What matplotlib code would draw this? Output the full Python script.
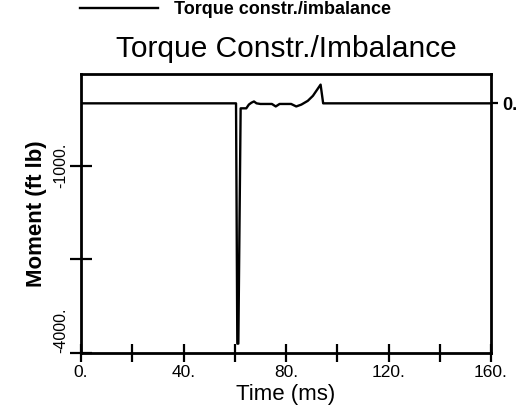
import matplotlib
matplotlib.use("Agg")
import matplotlib.pyplot as plt

plt.rcParams['font.family'] = ['Liberation Sans', 'DejaVu Sans']

# Data (time in ms, moment in ft lb)
time_ms = [0, 60.5, 61.0, 61.4, 62.3, 64.5, 65.5, 66.5, 67.5, 68.5, 70.0,
           74.5, 76.0, 77.5, 82.0, 84.0, 86.0, 88.5, 90.5, 93.5, 94.5, 160]
moment = [0, 0, -3850, -3850, -80, -80, -20, 10, 30, 0, -10,
          -10, -50, -10, -10, -50, -20, 40, 120, 300, 0, 0]

x_ticks = [0, 20, 40, 60, 80, 100, 120, 140, 160]
x_labels = ['0.', '', '40.', '', '80.', '', '120.', '', '160.']
y_ticks = [-4000, -2500, -1000]
y_labels = ['-4000.', '', '-1000.']
y_right_ticks = [0]
y_right_labels = ['0.']

series_name = 'Torque constr./imbalance'
title = 'Torque Constr./Imbalance'

fig = plt.figure(figsize=(5.29, 4.12), dpi=100)
ax = fig.add_axes([81/529, 1-353/412, 410/529, 279/412])

line, = ax.plot(time_ms, moment, color='black', lw=1.7, label=series_name)
ax.set_xlim(0, 160)
ax.set_ylim(-4000, 470)

for s in ax.spines.values():
    s.set_linewidth(2.0)

ax.set_xticks(x_ticks)
ax.set_xticklabels(x_labels, fontsize=12.5)
ax.set_yticks(y_ticks)
ax.set_yticklabels(y_labels, fontsize=11.5, rotation=90, va='center')
ax.get_yticklabels()[0].set_va('bottom')
ax.tick_params(axis='x', direction='inout', length=13, width=1.6, pad=2)
ax.tick_params(axis='y', direction='inout', length=16, width=1.6, pad=1)

ax2 = ax.twinx()
ax2.set_ylim(ax.get_ylim())
ax2.set_yticks(y_right_ticks)
ax2.set_yticklabels(y_right_labels, fontsize=13, fontweight='bold')
ax2.tick_params(axis='y', direction='out', length=5, width=1.6, pad=3)
for s in ax2.spines.values():
    s.set_visible(False)

ax.set_xlabel('Time (ms)', fontsize=16, labelpad=3)
ax.set_ylabel('Moment (ft lb)', fontsize=16, fontweight='bold', labelpad=5)
ax.set_title(title, fontsize=21.5, pad=12)

fig.legend(handles=[line], loc='center left',
           bbox_to_anchor=(80/529, 1 - 10/412),
           frameon=False, prop={'weight': 'bold', 'size': 13},
           handlelength=4.3, handletextpad=0.9, borderaxespad=0.0,
           borderpad=0.0)

fig.savefig('out.png', dpi=100)
